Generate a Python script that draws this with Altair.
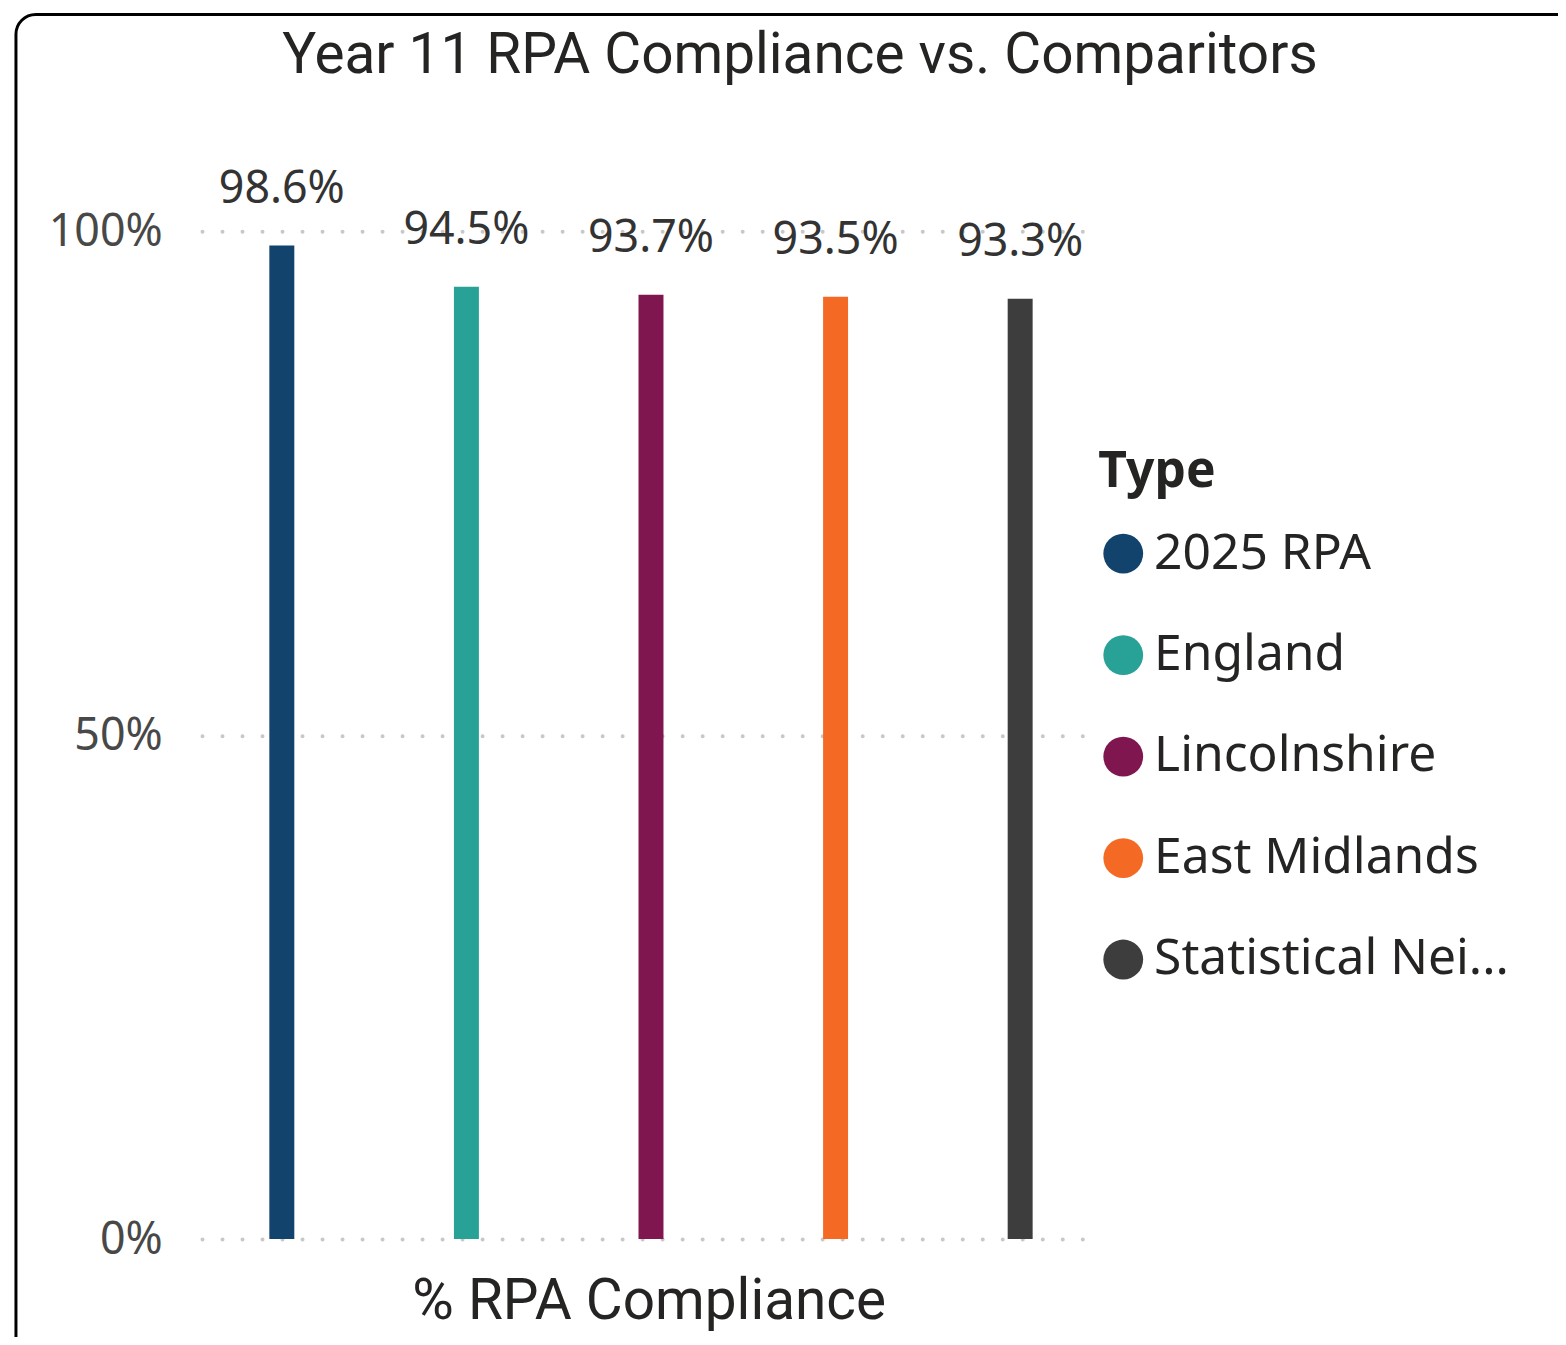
import altair as alt
import pandas as pd

types = ["2025 RPA", "England", "Lincolnshire", "East Midlands", "Statistical Neighbours"]
values = [98.6, 94.5, 93.7, 93.5, 93.3]
colors = ["#12436D", "#28A197", "#801650", "#F46A25", "#3D3D3D"]

df = pd.DataFrame({"Type": types, "pct": [v / 100 for v in values]})

x = alt.X(
    "Type:N",
    sort=types,
    scale=alt.Scale(paddingInner=0.8647, paddingOuter=0.32, align=0.57, round=False),
    axis=alt.Axis(
        title="% RPA Compliance", labels=False, ticks=False, domain=False,
        titleFont="Roboto", titleFontSize=57, titleFontWeight="normal",
        titleColor="#252423", titlePadding=35, titleX=449,
    ),
)
y = alt.Y(
    "pct:Q",
    scale=alt.Scale(domain=[0, 1]),
    axis=alt.Axis(
        values=[0, 0.5, 1], format=".0%", title=None,
        labelFont="Noto Sans", labelFontSize=45, labelColor="#484848",
        labelPadding=40, ticks=False, domain=False, grid=True,
        gridDash=[0.01, 20.1], gridCap="round", gridWidth=4, gridColor="#c8c8c8",
    ),
)
color = alt.Color(
    "Type:N",
    sort=types,
    scale=alt.Scale(domain=types, range=colors),
    legend=alt.Legend(
        title="Type", orient="none", legendX=901, legendY=217,
        symbolType="circle", symbolSize=1600, symbolStrokeWidth=0,
        titleFont="Noto Sans", titleFontWeight="bold", titleFontSize=50,
        titleColor="#252423", titlePadding=32,
        labelFont="Noto Sans", labelFontSize=50, labelColor="#252423",
        labelOffset=6, rowPadding=52, labelLimit=700,
        labelExpr="length(datum.label) > 15 ? substring(datum.label, 0, 15) + '...' : datum.label",
    ),
)

base = alt.Chart(df)
bars = base.mark_bar().encode(x=x, y=y, color=color)
labels = base.mark_text(
    baseline="bottom", dy=-34, font="Noto Sans", fontSize=45, color="#333333"
).encode(x=x, y=y, text=alt.Text("pct:Q", format=".1%"))

frame = alt.Chart(alt.Data(values=[{"a": 1}])).mark_rect(
    fill=None, stroke="#000000", strokeWidth=3, cornerRadius=20
).encode(
    x=alt.value(-187), x2=alt.value(1500), y=alt.value(-218), y2=alt.value(1300)
)

chart = alt.layer(bars, labels, frame).properties(
    width=886,
    height=1013,
    autosize=alt.AutoSizeParams(type="none"),
    padding={"left": 195, "top": 221, "right": 477, "bottom": 95},
    title=alt.Title(
        "Year 11 RPA Compliance vs. Comparitors", font="Roboto", fontSize=57,
        fontWeight="normal", color="#252423", anchor="middle", frame="group",
        dx=158, offset=0, dy=72,
    ),
).configure(background="white").configure_view(strokeWidth=0, stroke="transparent")

chart.save("out.html", embed_options={"renderer": "svg", "actions": False})
